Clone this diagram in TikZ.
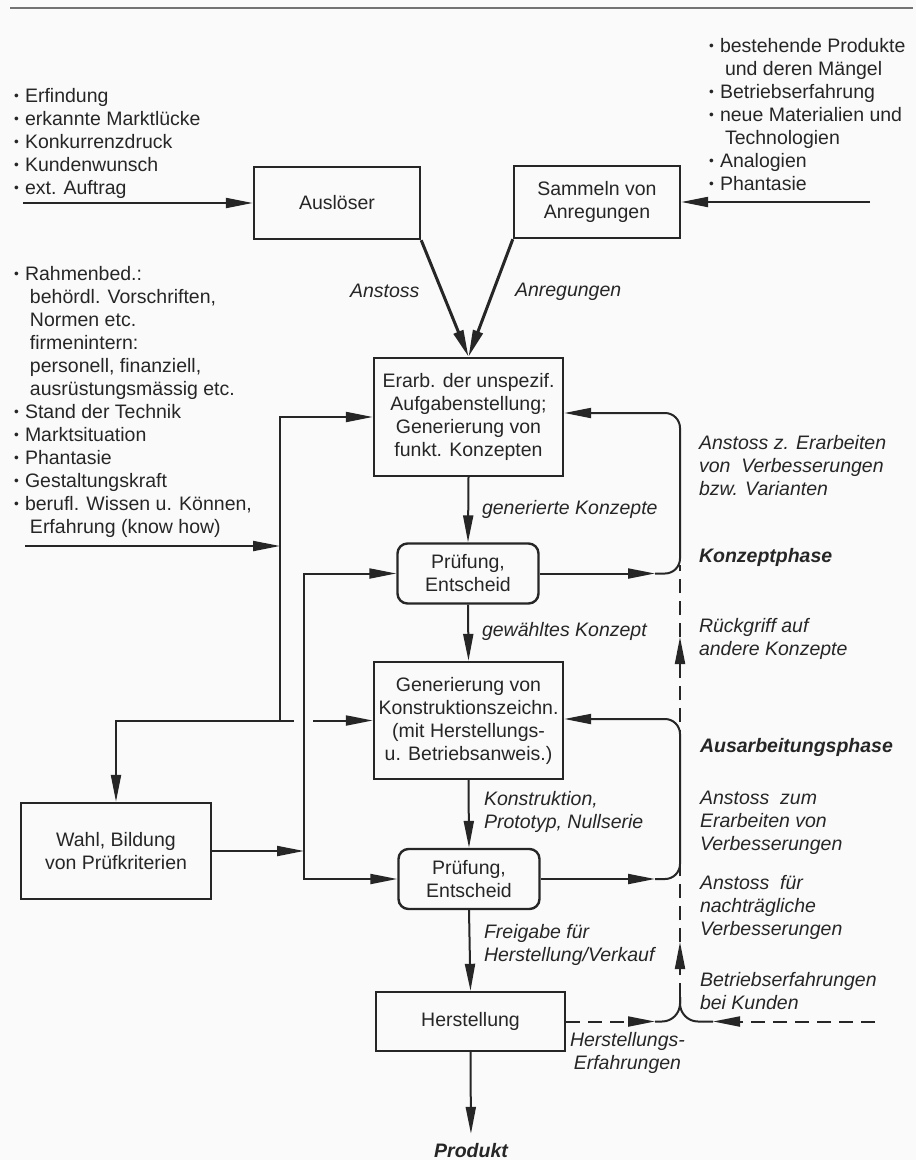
\documentclass[tikz,border=0pt]{standalone}
\usepackage{fontspec}
\setmainfont{Liberation Sans}
\usetikzlibrary{arrows.meta,positioning,calc}

\newcommand{\itm}{\makebox[11pt][l]{\raisebox{1.5pt}{\scalebox{0.7}{\textbullet}}}}
\newcommand{\ind}{\hspace*{16pt}}

\begin{document}
\begin{tikzpicture}[x=1pt,y=-1pt,>={Triangle[length=27pt,width=10pt]},line width=2pt,color=black!85]
	\tikzset{every node/.style={font=\fontsize{19.5}{23}\selectfont,inner sep=0pt}}
	\tikzset{box/.style={draw,line width=2.4pt,align=center,minimum width=189pt}}
	\tikzset{check/.style={box,rounded corners=10pt,minimum width=141pt,minimum height=60pt}}
	\tikzset{lbl/.style={anchor=base west,align=left,font=\fontsize{19.5}{23}\selectfont\itshape}}
	\tikzset{phase/.style={lbl,font=\fontsize{19.5}{23}\selectfont\bfseries\itshape}}
	\tikzset{list/.style={anchor=base west,align=left}}
	\tikzset{thickarrow/.style={->,line width=3pt}}
	\tikzset{dsh/.style={dash pattern=on 14pt off 8pt}}
	\path[use as bounding box,fill=black!2] (0,0) rectangle (916,1160);
	\draw[line width=1.2pt,black!55] (10,8) -- (913,8);
	% vertices
	\node[box,minimum width=166pt,minimum height=72pt] (ausl) at (337,203) {Auslöser};
	\node[box,minimum width=166pt,minimum height=72pt] (samm) at (597,202) {Sammeln von\\Anregungen};
	\node[box,minimum height=118pt] (erarb) at (468.5,417) {Erarb. der unspezif.\\Aufgabenstellung;\\Generierung von\\funkt. Konzepten};
	\node[check] (pruef1) at (468,573.5) {Prüfung,\\Entscheid};
	\node[box,minimum height=117pt] (gen) at (468.5,720.5) {Generierung von\\Konstruktionszeichn.\\(mit Herstellungs-\\u. Betriebsanweis.)};
	\node[check] (pruef2) at (469,879) {Prüfung,\\Entscheid};
	\node[box,minimum width=190pt,minimum height=96pt] (wahl) at (116,851) {Wahl, Bildung\\von Prüfkriterien};
	\node[box,minimum height=59pt] (herst) at (470.5,1021.5) {Herstellung};
	\node[font=\fontsize{19.5}{23}\selectfont\bfseries\itshape] (produkt) at (471,1151) {Produkt};
	% lists (anchored at the last baseline)
	\node[list] (ausloeser) at (13,194) {\itm Erfindung\\\itm erkannte Marktlücke\\\itm Konkurrenzdruck\\\itm Kundenwunsch\\\itm ext. Auftrag};
	\node[list] (anregungen) at (708,190) {\itm bestehende Produkte\\\ind und deren Mängel\\\itm Betriebserfahrung\\\itm neue Materialien und\\\ind Technologien\\\itm Analogien\\\itm Phantasie};
	\node[list] (rahmen) at (13,533) {\itm Rahmenbed.:\\\ind behördl. Vorschriften,\\\ind Normen etc.\\\ind firmenintern:\\\ind personell, finanziell,\\\ind ausrüstungsmässig etc.\\\itm Stand der Technik\\\itm Marktsituation\\\itm Phantasie\\\itm Gestaltungskraft\\\itm berufl. Wissen u. Können,\\\ind Erfahrung (know how)};
	% labels
	\node[lbl] (anstoss) at (349,297) {Anstoss};
	\node[lbl] (anreg) at (514,296) {Anregungen};
	\node[lbl] (genkonz) at (481,514) {generierte Konzepte};
	\node[lbl] (gewkonz) at (481,636) {gewähltes Konzept};
	\node[lbl] (konstr) at (483,828) {Konstruktion,\\Prototyp, Nullserie};
	\node[lbl] (freig) at (483,961) {Freigabe für\\Herstellung/Verkauf};
	\node[lbl] (anstoss1) at (698,495) {Anstoss z. Erarbeiten\\von\ \ Verbesserungen\\bzw. Varianten};
	\node[phase] (phase1) at (698,562) {Konzeptphase};
	\node[lbl] (rueck) at (698,655) {Rückgriff auf\\andere Konzepte};
	\node[phase] (phase2) at (699,752) {Ausarbeitungsphase};
	\node[lbl] (anstoss2) at (699,850) {Anstoss\ \ zum\\Erarbeiten von\\Verbesserungen};
	\node[lbl] (anstoss3) at (699,935) {Anstoss\ \ für\\nachträgliche\\Verbesserungen};
	\node[lbl] (betrerf) at (699,1009) {Betriebserfahrungen\\bei Kunden};
	\node[lbl,align=center] (herserf) at (569,1069) {Herstellungs-\\Erfahrungen};
	% points
	\coordinate (in1) at (23,203);
	\coordinate (in2) at (870,202);
	\coordinate (in3) at (875,1021.5);
	\coordinate (kh) at (25,546);
	\coordinate (a) at (280,720.5);
	\coordinate (hopl) at (294,720.5);
	\coordinate (hopr) at (313,720.5);
	\coordinate (b) at (304,851);
	\coordinate (f1) at (655,573.5);
	\coordinate (r1) at (680,413);
	\coordinate (f2) at (655,879);
	\coordinate (r2) at (680,719);
	\coordinate (f3) at (655,1021.5);
	\coordinate (f4) at (713,1021.5);
	\coordinate (m) at (680,997);
	\coordinate (t1) at (680,942);
	\coordinate (t2) at (680,637);
	\coordinate (t3) at (680,565);
	%edges
	\draw[->] (in1) -- (ausl.west);
	\draw[->] (in2) -- (samm.east);
	\draw[thickarrow] (ausl.south east) -- (erarb.north);
	\draw[thickarrow] (samm.south west) -- (erarb.north);
	\draw[->] (erarb.south) -- (pruef1.north);
	\draw[->] (pruef1.south) -- (gen.north);
	\draw[->] (gen.south) -- (pruef2.north);
	\draw[->] (pruef2.south) -- (herst.north);
	\draw[->,shorten >=9pt] (herst.south) -- (produkt.north);

	\draw[->] (a) |- (erarb.west);
	\draw[->] (kh) -- (kh -| a);
	\draw[->] (a) -| (wahl.north);
	\draw (a) -- (hopl);
	\draw[->] (hopr) -- (gen.west);
	\draw[->] (wahl.east) -- (b);
	\draw[->] (b) |- (pruef1.west);
	\draw[->] (b) |- (pruef2.west);

	\draw[->] (pruef1.east) -- (f1);
	\draw[->,rounded corners=15pt] (f1) -| (r1) -- (r1 -| erarb.east);
	\draw[->] (pruef2.east) -- (f2);
	\draw[->,rounded corners=15pt] (f2) -| (r2) -- (r2 -| gen.east);

	\draw[->,dsh] (m) -- (t1);
	\draw[->,dsh] (t1) -- (t2);
	\draw[dsh] (t2) -- (t3);
	\draw[->,dsh] (herst.east) -- (f3);
	\draw[rounded corners=18pt] (f3) -| (m);
	\draw[->,dsh] (in3) -- (f4);
	\draw[rounded corners=18pt] (f4) -| (m);
\end{tikzpicture}
\end{document}
